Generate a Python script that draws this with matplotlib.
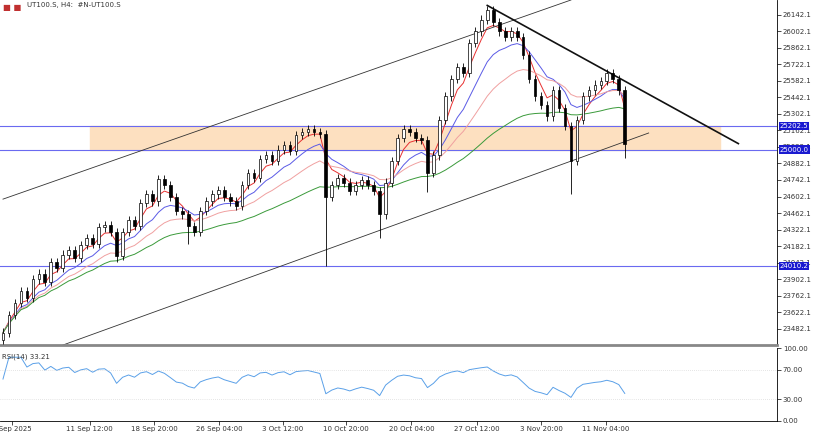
import matplotlib
matplotlib.use("Agg")
import matplotlib.pyplot as plt
import numpy as np
import pandas as pd

closes = [23450,23600,23700,23800,23740,23900,23950,23880,24050,24000,24110,24150,24080,24190,24250,24200,
          24340,24360,24300,24100,24300,24400,24350,24550,24620,24560,24750,24700,24600,24480,24450,24350,
          24300,24480,24560,24620,24660,24600,24560,24520,24700,24800,24760,24920,24950,24900,25000,25040,
          24990,25120,25150,25170,25150,25130,24600,24700,24760,24720,24650,24700,24740,24700,24650,24450,
          24720,24900,25100,25170,25150,25100,25080,24800,24950,25250,25450,25600,25700,25650,25900,26000,
          26100,26180,26080,26000,25950,26000,25950,25800,25600,25450,25380,25280,25500,25350,25200,24900,
          25250,25450,25500,25550,25580,25650,25600,25500,25050]
spike_lows = {19: 24050, 31: 24200, 54: 24010, 63: 24250, 71: 24640, 95: 24620, 104: 24930}
levels = [25202.5, 25000.0, 24010.2]
zone = (25000.0, 25202.5)
upper_channel = [(0, 24580), (95, 26266)]
lower_channel = [(10, 23344), (108, 25140)]
resistance = [(81, 26220), (123, 25050)]
date_labels = ["1 Sep 2025","11 Sep 12:00","18 Sep 20:00","26 Sep 04:00","3 Oct 12:00","10 Oct 20:00",
               "20 Oct 04:00","27 Oct 12:00","3 Nov 20:00","11 Nov 04:00"]
date_pos = [1.5, 14.5, 25.3, 36.2, 46.8, 57.3, 68.3, 79.2, 90.0, 100.8]

c = np.array(closes, float)
o = np.r_[c[0] - 60, c[:-1]]
hi = np.maximum(o, c) + 35
lo = np.minimum(o, c) - 35
for k, v in spike_lows.items():
    lo[k] = v
x = np.arange(len(c))

fig = plt.figure(figsize=(8.13, 4.33), dpi=100)
ax = fig.add_axes([0.0, 0.203, 0.956, 0.797])
ar = fig.add_axes([0.0, 0.028, 0.956, 0.168])

ax.set_xlim(-0.5, 129.5)
ax.set_ylim(23344, 26266)
ax.axhspan(zone[0], zone[1], xmin=15/130, xmax=120.5/130, color="#fde0c0", zorder=0)
for lv in levels:
    ax.axhline(lv, color="#6a6af0", lw=0.8, zorder=1)
s = pd.Series(c)
for span, col in [(4, "#e83030"), (10, "#5a5ae6"), (20, "#f0a0a0"), (50, "#3a9a3a")]:
    ax.plot(x, s.ewm(span=span).mean(), color=col, lw=0.7, zorder=2)
for pts in (upper_channel, lower_channel):
    ax.plot(*zip(*pts), color="#333333", lw=0.6, zorder=2)
ax.plot(*zip(*resistance), color="#111111", lw=1.2, zorder=2)
ax.vlines(x, lo, hi, color="black", lw=0.6, zorder=3)
up = c >= o
ax.bar(x[up], (c - o)[up], bottom=o[up], width=0.45, color="white", edgecolor="black", lw=0.5, zorder=4)
ax.bar(x[~up], (o - c)[~up], bottom=c[~up], width=0.45, color="black", edgecolor="black", lw=0.5, zorder=4)

ax.yaxis.tick_right()
ticks = [23482.1 + 140 * k for k in range(20)]
ax.set_yticks(ticks)
ax.set_yticklabels([f"{t:.1f}" for t in ticks], fontsize=5, color="#333333")
ax.tick_params(axis="y", length=3, pad=1, width=0.5)
ax.set_xticks([])
for sp in ["top", "left"]:
    ax.spines[sp].set_visible(False)
ax.spines["right"].set_linewidth(0.6)
ax.spines["bottom"].set_color("#888888")
ax.spines["bottom"].set_linewidth(2)
for lv in levels:
    ax.text(1.003, lv, f"{lv:.1f}", transform=ax.get_yaxis_transform(), fontsize=5, color="white",
            va="center", ha="left", bbox=dict(boxstyle="square,pad=0.15", fc="#1a1ad0", ec="none"), zorder=10)
ax.text(0.004, 0.99, "\u25a0 \u25a0 ", transform=ax.transAxes, fontsize=6, color="#c03030", va="top")
ax.text(0.035, 0.995, "UT100.S, H4:  #N-UT100.S", transform=ax.transAxes, fontsize=5, color="#333333", va="top")

d = s.diff()
g = d.clip(lower=0).ewm(alpha=1/9).mean()
l = (-d.clip(upper=0)).ewm(alpha=1/9).mean()
rsi = 100 - 100 / (1 + g / l)
rsi.iloc[0] = 60
rsi = 50 + (rsi - 50) * 0.75
ar.plot(x, rsi, color="#5aa0e8", lw=0.7)
ar.set_xlim(-0.5, 129.5)
ar.set_ylim(0, 100)
for lv in (30, 70):
    ar.axhline(lv, color="#cccccc", lw=0.5, ls=(0, (1, 2)))
ar.yaxis.tick_right()
ar.set_yticks([0, 30, 70, 100])
ar.set_yticklabels(["0.00", "30.00", "70.00", "100.00"], fontsize=5, color="#333333")
ar.set_xticks(date_pos)
ar.set_xticklabels(date_labels, fontsize=5, color="#333333")
ar.tick_params(length=3, pad=1, width=0.5)
for sp in ["top", "left"]:
    ar.spines[sp].set_visible(False)
for sp in ["right", "bottom"]:
    ar.spines[sp].set_linewidth(0.6)
ar.text(0.002, 0.93, f"RSI(14) {33.21:.2f}", transform=ar.transAxes, fontsize=5, color="#333333", va="top")

fig.savefig("out.png", dpi=100)
